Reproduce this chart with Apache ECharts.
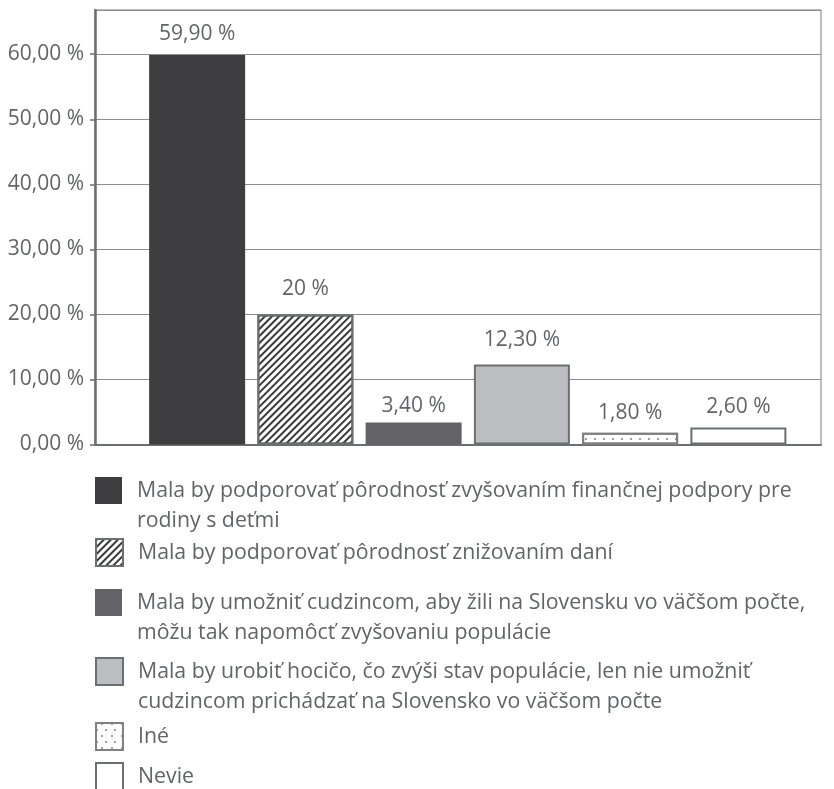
<!DOCTYPE html>
<html>
<head>
<meta charset="utf-8">
<style>
  html, body { margin: 0; padding: 0; background: #fff; }
  #chart { width: 834px; height: 789px; }
</style>
<script src="https://cdn.jsdelivr.net/npm/echarts@6/dist/echarts.min.js"></script>
</head>
<body>
<div id="chart"></div>
<script>
// answers (legend text, with the line breaks of the original)
const categories = [
  'Mala by podporovať pôrodnosť zvyšovaním finančnej podpory pre\nrodiny s deťmi',
  'Mala by podporovať pôrodnosť znižovaním daní',
  'Mala by umožniť cudzincom, aby žili na Slovensku vo väčšom počte,\nmôžu tak napomôcť zvyšovaniu populácie',
  'Mala by urobiť hocičo, čo zvýši stav populácie, len nie umožniť\ncudzincom prichádzať na Slovensko vo väčšom počte',
  'Iné',
  'Nevie'
]
const values = [59.9, 20, 3.4, 12.3, 1.8, 2.6]
const valueLabels = ['59,90 %', '20 %', '3,40 %', '12,30 %', '1,80 %', '2,60 %']
const yMax = 66.8
const yStep = 10

const FONT = '"Open Sans", sans-serif'
const TEXT = '#636466'
const EDGE = '#6d6e71'

// one look per answer, same order as categories
const barStyles = [
  { color: '#3e3e40' },
  {
    color: '#ffffff', borderColor: EDGE, borderWidth: 2,
    decal: { symbol: 'rect', symbolSize: 1, color: '#3a3a3a', dashArrayX: [1, 0], dashArrayY: [2, 2.4], rotation: -Math.PI / 4 }
  },
  { color: '#636367' },
  { color: '#bcbdc0', borderColor: EDGE, borderWidth: 2 },
  {
    color: '#ffffff', borderColor: '#808083', borderWidth: 2,
    decal: { symbol: 'circle', symbolSize: 1, color: '#7f7f82', dashArrayX: [[2, 7], [0, 4.5, 2, 2.5]], dashArrayY: [2, 3.5], rotation: 0 }
  },
  { color: '#ffffff', borderColor: EDGE, borderWidth: 2 }
]
// small nudges of the value labels, as placed in the original
const labelShift = [2, -3, 6, -2, 3, 2]

// where each legend square starts (top edge)
const legendTops = [477, 539, 589, 658, 723, 763]
const LINE_H = 30
const ICON = 27

const fmtPct = (v) => v.toFixed(2).replace('.', ',') + ' %'

const legends = categories.map((name, i) => {
  const lines = name.split('\n').length
  // an empty first line keeps the square level with the first text line
  const shown = lines > 1 ? '\n' + name : name
  const boxH = (lines > 1 ? lines + 1 : 1) * LINE_H
  const offset = Math.max(0, (boxH - ICON) / 2)
  return {
    data: [name],
    left: 95,
    top: legendTops[i] - offset,
    padding: 0,
    icon: 'rect',
    itemWidth: ICON,
    itemHeight: ICON,
    selectedMode: false,
    itemStyle: { borderColor: 'inherit' },
    formatter: () => shown,
    textStyle: {
      color: TEXT,
      fontFamily: FONT,
      fontSize: 21.3,
      lineHeight: LINE_H,
      padding: [0, 0, 0, 10]
    }
  }
})

const chart = echarts.init(document.getElementById('chart'))

chart.setOption({
  backgroundColor: '#ffffff',
  animation: false,
  grid: [
    // frame, y axis and grid lines
    { left: 95, right: 13, top: 10, bottom: 344.5, show: true, borderColor: '#7a7a7c', borderWidth: 1 },
    // bars sit in a narrower band inside the frame
    { left: 143, right: 41.5, top: 10, bottom: 344.5 }
  ],
  legend: legends,
  xAxis: [
    {
      gridIndex: 0, type: 'category', data: [''],
      axisLine: { show: true, lineStyle: { color: EDGE, width: 2 } },
      axisTick: { show: false }, axisLabel: { show: false }
    },
    { gridIndex: 1, type: 'category', data: categories, show: false }
  ],
  yAxis: [
    {
      gridIndex: 0, type: 'value', min: 0, max: yMax, interval: yStep,
      axisLine: { show: true, lineStyle: { color: EDGE, width: 2.5 } },
      axisTick: { show: true, length: 5, lineStyle: { color: EDGE, width: 1.5 } },
      splitLine: { show: true, lineStyle: { color: '#8e8e90', width: 1 } },
      axisLabel: {
        margin: 11, color: TEXT, fontFamily: FONT, fontSize: 21,
        showMaxLabel: false, formatter: fmtPct
      }
    },
    { gridIndex: 1, type: 'value', min: 0, max: yMax, show: false }
  ],
  series: categories.map((name, i) => ({
    name,
    type: 'bar',
    xAxisIndex: 1,
    yAxisIndex: 1,
    stack: 'answers',
    barWidth: 96,
    itemStyle: barStyles[i],
    label: {
      show: true,
      position: 'top',
      distance: 12,
      offset: [0, labelShift[i]],
      color: TEXT,
      fontFamily: FONT,
      fontSize: 21,
      formatter: () => valueLabels[i]
    },
    data: values.map((v, j) => (j === i ? v : '-'))
  }))
})
</script>
</body>
</html>
